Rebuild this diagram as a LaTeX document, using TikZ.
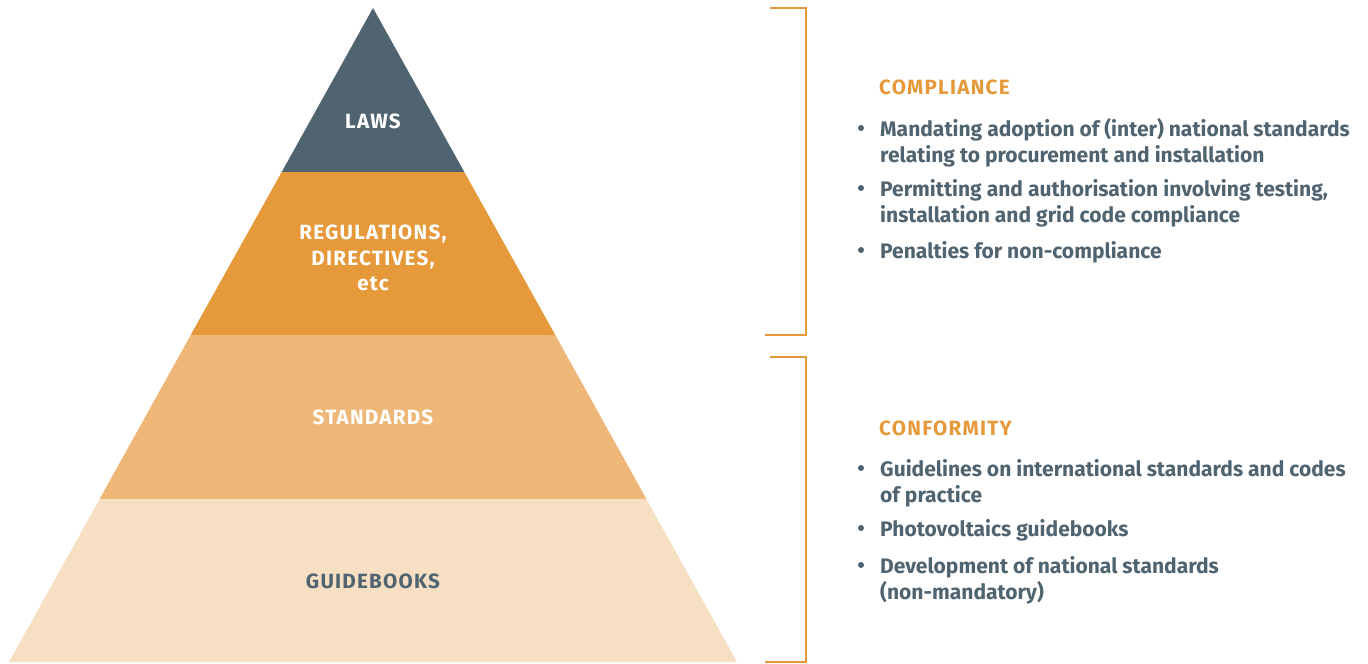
\documentclass[tikz,border=0pt]{standalone}
\usepackage{fontspec}
\setmainfont{Fira Sans}
\newfontfamily\capsfont{Fira Sans}[LetterSpace=6]
\definecolor{slate}{HTML}{506370}
\definecolor{amber}{HTML}{E6993A}
\definecolor{sand}{HTML}{EEB777}
\definecolor{cream}{HTML}{F7DFC3}
\tikzset{
  layer/.style={draw=none},
  tier/.style={font=\capsfont\fontsize{20.7}{25.5}\selectfont\bfseries, align=center, inner sep=0pt},
  head/.style={font=\capsfont\fontsize{20.7}{24}\selectfont\bfseries, text=amber, anchor=base west, inner sep=0pt},
  item/.style={font=\fontsize{21.1}{26}\selectfont\bfseries, text=slate, align=left, anchor=base west, inner sep=0pt},
  dot/.style={circle, fill=slate, inner sep=0pt, minimum size=6bp},
  brace/.style={draw=amber, line width=1.6bp}
}
\begin{document}
\begin{tikzpicture}[x=1bp,y=-1bp]
\useasboundingbox (0,0) rectangle (1368,664);
% pyramid corners and tier edges
\coordinate (top) at (373,8);
\coordinate (l1) at (281.7,172); \coordinate (r1) at (464.3,172);
\coordinate (l2) at (190.7,335); \coordinate (r2) at (555.3,335);
\coordinate (l3) at (99.6,499);  \coordinate (r3) at (646.4,499);
\coordinate (l4) at (9,662);     \coordinate (r4) at (737,662);
\path[layer,fill=slate] (top) -- (r1) -- (l1) -- cycle;
\path[layer,fill=amber] (l1) -- (r1) -- (r2) -- (l2) -- cycle;
\path[layer,fill=sand] (l2) -- (r2) -- (r3) -- (l3) -- cycle;
\path[layer,fill=cream] (l3) -- (r3) -- (r4) -- (l4) -- cycle;
\node[tier,text=white] (laws) at (373,121) {LAWS};
\node[tier,text=white] (regs) at (373,258) {REGULATIONS,\\DIRECTIVES,\\etc};
\node[tier,text=white] (std) at (373,417) {STANDARDS};
\node[tier,text=slate] (guide) at (373,581) {GUIDEBOOKS};
% brackets
\draw[brace] (770,8) -- (806,8) -- (806,335) -- (765,335);
\draw[brace] (770,357) -- (806,357) -- (806,662) -- (765,662);
% compliance (base anchor = last line)
\node[head] (comp) at (879,95) {COMPLIANCE};
\node[dot] (d1) at (861,128) {};
\node[item] (c1) at (880,162) {Mandating adoption of (inter) national standards\\relating to procurement and installation};
\node[dot] (d2) at (861,188) {};
\node[item] (c2) at (880,222) {Permitting and authorisation involving testing,\\installation and grid code compliance};
\node[dot] (d3) at (861,250) {};
\node[item] (c3) at (880,258) {Penalties for non-compliance};
% conformity
\node[head] (conf) at (879,435) {CONFORMITY};
\node[dot] (e1) at (861,468) {};
\node[item] (f1) at (880,502) {Guidelines on international standards and codes\\of practice};
\node[dot] (e2) at (861,528) {};
\node[item] (f2) at (880,536) {Photovoltaics guidebooks};
\node[dot] (e3) at (861,565) {};
\node[item] (f3) at (880,599) {Development of national standards\\(non-mandatory)};
\end{tikzpicture}
\end{document}
